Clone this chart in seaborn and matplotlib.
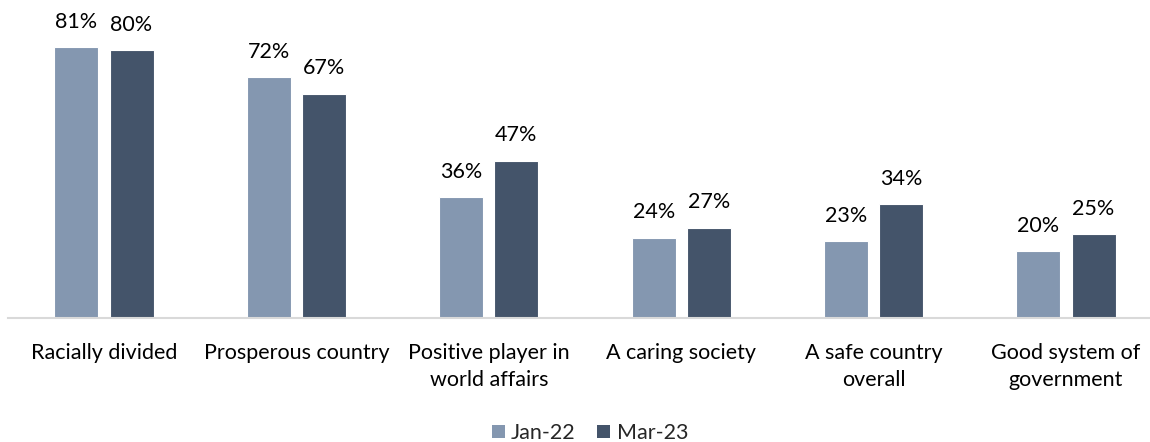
import numpy as np
import matplotlib
matplotlib.use("Agg")
import matplotlib.pyplot as plt
import pandas as pd
import seaborn as sns
from matplotlib.patches import Patch

# chart data
categories = ["Racially divided", "Prosperous country", "Positive player in\nworld affairs",
              "A caring society", "A safe country\noverall", "Good system of\ngovernment"]
jan22 = [81, 72, 36, 24, 23, 20]
mar23 = [80, 67, 47, 27, 34, 25]
series = ["Jan-22", "Mar-23"]
colors = ["#8497B0", "#44546A"]

df = pd.DataFrame({
    "category": categories * 2,
    "value": jan22 + mar23,
    "wave": [series[0]] * len(categories) + [series[1]] * len(categories),
})

sns.set_style("white")
plt.rcParams["font.family"] = ["Lato", "DejaVu Sans"]

fig = plt.figure(figsize=(11.5, 4.42), dpi=100)
# axes placed so the baseline sits where the reference has it
ax = fig.add_axes([7.8 / 1150, 124 / 442, 1142.2 / 1150, 318 / 442])

sns.barplot(data=df, x="category", y="value", hue="wave", order=categories,
            hue_order=series, palette=colors, saturation=1, width=0.572, gap=0.2,
            edgecolor="white", linewidth=0.8, legend=False, ax=ax)

for cont in ax.containers:
    ax.bar_label(cont, fmt="%d%%", padding=11, fontsize=15.5, color="#000000")

ax.set_xlim(-0.5, -0.5 + 1142.2 / 192.4)
ax.set_ylim(0, 95)
ax.set_xlabel("")
ax.set_ylabel("")
ax.set_yticks([])
ax.tick_params(axis="x", length=0, pad=18, labelsize=15.5, labelcolor="#000000")
ax.set_xticks(range(len(categories)), categories, linespacing=1.45)

for side in ["top", "right", "left"]:
    ax.spines[side].set_visible(False)
ax.spines["bottom"].set_color("#D9D9D9")
ax.spines["bottom"].set_linewidth(1.5)

handles = [Patch(facecolor=c, edgecolor="none") for c in colors]
fig.legend(handles, series, loc="center", bbox_to_anchor=(590 / 1150, 9 / 442),
           ncol=2, frameon=False, fontsize=15.5, handlelength=0.6, handleheight=0.6,
           handletextpad=0.3, columnspacing=1.0)

fig.savefig("out.png", dpi=100)
